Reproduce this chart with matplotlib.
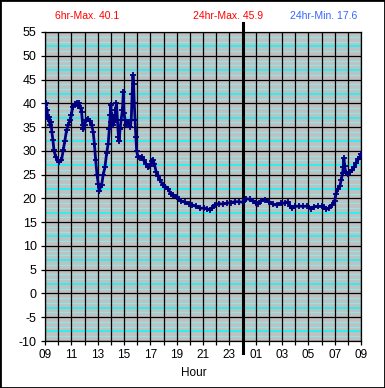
import numpy as np
import matplotlib
matplotlib.use('Agg')
import matplotlib.pyplot as plt
from matplotlib.patches import Rectangle

# hours after 09:00 and temperature readings
hours = [0.00, 0.05, 0.10, 0.15, 0.22, 0.30, 0.38, 0.45, 0.52, 0.60, 0.68, 0.80, 0.95,
         1.10, 1.25, 1.39, 1.50, 1.64, 1.78, 1.90, 2.00, 2.10, 2.25, 2.40, 2.50, 2.60,
         2.70, 2.78, 2.86, 2.92, 3.00, 3.10, 3.25, 3.40, 3.54, 3.66, 3.75, 3.85, 3.95,
         4.05, 4.12, 4.20, 4.30, 4.42, 4.55, 4.68, 4.80, 4.88, 4.95, 5.00, 5.05, 5.12,
         5.20, 5.28, 5.35, 5.43, 5.50, 5.58, 5.63, 5.70, 5.78, 5.88, 5.95, 6.00, 6.08,
         6.18, 6.28, 6.38, 6.48, 6.55, 6.62, 6.68, 6.73, 6.78, 6.84, 6.90, 6.96, 7.05,
         7.20, 7.35, 7.50, 7.65, 7.83, 7.98, 8.10, 8.20, 8.30, 8.45, 8.60, 8.75, 8.95,
         9.15, 9.35, 9.55, 9.75, 10.00, 10.30, 10.60, 10.90, 11.20, 11.50, 11.80, 12.10,
         12.30, 12.50, 12.70, 12.90, 13.20, 13.50, 13.80, 14.10, 14.40, 14.70, 15.00,
         15.30, 15.55, 15.80, 16.00, 16.15, 16.40, 16.70, 17.00, 17.30, 17.60, 17.90,
         18.20, 18.45, 18.60, 18.75, 19.00, 19.30, 19.60, 19.90, 20.20, 20.40, 20.70,
         21.00, 21.20, 21.35, 21.55, 21.80, 22.00, 22.10, 22.25, 22.40, 22.50, 22.60,
         22.65, 22.70, 22.75, 22.85, 23.00, 23.15, 23.35, 23.50, 23.65, 23.80, 23.92, 24.00]
temps = [39.6, 40.0, 37.5, 38.5, 36.8, 37.2, 35.5, 36.0, 34.0, 32.3, 30.2, 28.8, 28.0,
         27.7, 28.0, 30.2, 32.0, 34.4, 35.5, 36.5, 37.5, 39.3, 39.8, 40.1, 39.5, 40.0,
         39.0, 38.2, 35.5, 34.5, 35.5, 36.5, 36.7, 36.3, 35.4, 34.0, 31.5, 28.0, 25.0,
         23.0, 21.5, 22.3, 22.8, 25.0, 26.5, 29.5, 31.5, 34.5, 37.5, 39.6, 36.0, 37.5,
         35.5, 36.5, 38.5, 40.0, 36.5, 33.0, 32.0, 34.5, 36.5, 38.5, 42.3, 38.0, 36.5,
         35.5, 36.0, 35.5, 35.0, 36.5, 42.0, 45.9, 44.0, 40.0, 36.5, 33.0, 30.0, 28.8,
         28.5, 28.8, 28.0, 27.3, 26.5, 26.8, 27.8, 28.0, 27.3, 25.5, 24.8, 23.8, 22.8,
         22.5, 22.0, 21.0, 20.7, 20.2, 19.5, 19.2, 18.9, 18.6, 18.3, 17.9, 18.0,
         17.8, 17.6, 18.0, 18.7, 18.9, 18.8, 19.0, 19.1, 19.3, 19.3, 19.2,
         19.9, 19.8, 19.5, 19.0, 18.9, 19.5, 19.7, 19.3, 18.8, 18.6, 19.0,
         19.0, 19.3, 18.5, 17.9, 18.3, 18.4, 18.3, 18.4, 17.8, 18.2, 18.3,
         18.3, 18.2, 17.7, 18.0, 18.6, 19.5, 21.0, 22.0, 22.7, 23.9, 25.3,
         26.5, 28.4, 26.9, 25.3, 25.2, 25.6, 26.0, 26.7, 27.5, 28.2, 28.8, 29.3]

hour_labels = ['09', '11', '13', '15', '17', '19', '21', '23', '01', '03', '05', '07', '09']
y_ticks = list(range(-10, 60, 5))

plt.rcParams['font.family'] = ['Liberation Sans', 'DejaVu Sans']

fig = plt.figure(figsize=(3.85, 3.88), dpi=100)
ax = fig.add_axes([45 / 385, 1 - 341 / 388, 316 / 385, 309 / 388])
ax.set_facecolor('#c0c0c0')

# background lines: one per degree, the brighter one at 2 mod 5
for v in np.arange(-10, 55, 1):
    if v % 5 == 2:
        ax.axhline(v, color='#00ffff', lw=1.1, zorder=1)
    elif v % 5 != 0:
        ax.axhline(v, color='#8ee6e6', lw=0.9, zorder=1)
for v in y_ticks:
    ax.axhline(v, color='black', lw=0.9, zorder=2)
for h in range(0, 25):
    ax.axvline(h, color='black', lw=0.9, zorder=2)
ax.axvline(15, ymin=-0.039, ymax=1.029, clip_on=False, color='black', lw=2.2, zorder=3)

ax.plot(hours, temps, color='#000080', lw=2, marker='+', ms=5, mew=1.3, zorder=4)

ax.set_xlim(0, 24)
ax.set_ylim(-10, 55)
ax.set_yticks(y_ticks)
ax.set_yticklabels([str(v) for v in y_ticks], fontsize=9)
ax.set_xticks(range(0, 25))
ax.set_xticklabels([hour_labels[i // 2] if i % 2 == 0 else '' for i in range(25)], fontsize=8.5)
ax.tick_params(axis='both', length=3, width=0.9, color='black', pad=3)
for s in ax.spines.values():
    s.set_color('black')
    s.set_linewidth(0.9)

fig.text(194 / 385, 1 - 373 / 388, 'Hour', ha='center', va='center', fontsize=8.5)
fig.text(87 / 385, 1 - 16 / 388, '6hr-Max. 40.1', ha='center', va='center', fontsize=7.5, color='#ff0000')
fig.text(228 / 385, 1 - 16 / 388, '24hr-Max. 45.9', ha='center', va='center', fontsize=7.5, color='#ff0000')
fig.text(324 / 385, 1 - 16 / 388, '24hr-Min. 17.6', ha='center', va='center', fontsize=7.5, color='#3366ff')

fig.patches.append(Rectangle((0, 0), 1, 1, transform=fig.transFigure, fill=False,
                             edgecolor='black', lw=2))

plt.savefig('out.png', dpi=100)
